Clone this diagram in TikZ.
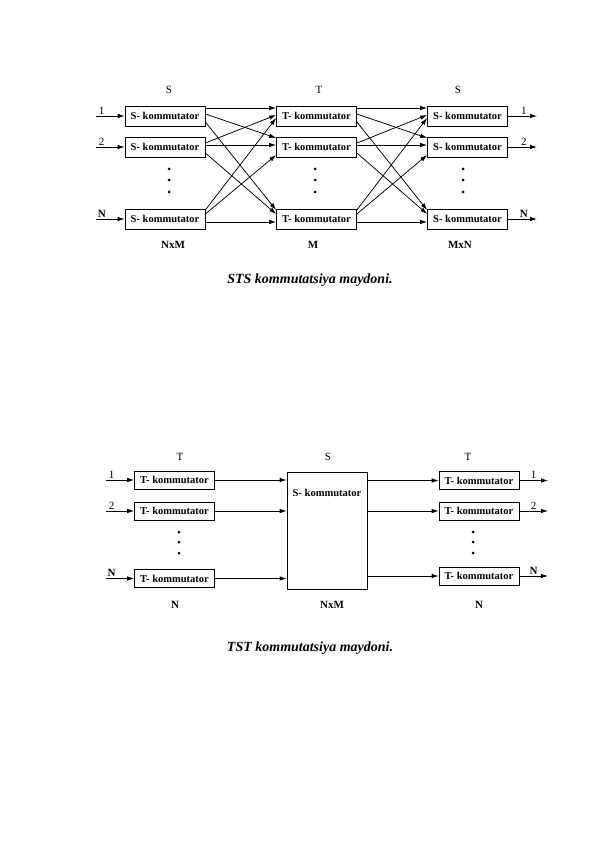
\documentclass[tikz,border=0pt]{standalone}
\usepackage{fontspec}
\setmainfont{Liberation Serif}
\usetikzlibrary{arrows.meta}

\begin{document}
\begin{tikzpicture}[x = 1pt, y = -1pt, > = {Latex[length = 7pt, width = 4.5pt]}, line width = 0.75pt,
	box/.style = {draw, minimum width = 80pt, minimum height = 20pt, inner sep = 0pt, font = \fontsize{10.5}{12}\selectfont\bfseries},
	bigbox/.style = {draw, minimum width = 80pt, minimum height = 117pt, inner sep = 0pt},
	head/.style = {font = \fontsize{11}{13}\selectfont},
	foot/.style = {font = \fontsize{11}{13}\selectfont\bfseries},
	num/.style = {above, inner sep = 1.5pt, font = \fontsize{11}{12}\selectfont},
	caption/.style = {font = \fontsize{14}{16}\selectfont\bfseries\itshape}]

	\useasboundingbox (0, 0) rectangle (596, 842);

	% Definitions

	\def\xs{165}		% STS columns
	\def\xt{316.5}
	\def\xr{467.5}

	\def\xl{174.5}		% TST columns
	\def\xm{327}
	\def\xn{479}

	% STS field: switches

	\foreach \n/\y in {1/116, 2/147, 3/219}
	{
		\node (s\n) [box] at (\xs, \y) {S- kommutator};
		\node (t\n) [box] at (\xt, \y) {T- kommutator};
		\node (r\n) [box] at (\xr, \y) {S- kommutator};
	}

	% STS field: inputs and outputs

	\foreach \n/\y/\l in {1/116/1, 2/147/2, 3/219/\textbf{N}}
	{
		\coordinate (a\n) at (96, \y);
		\coordinate (b\n) at (537, \y);
		\draw [->] (a\n) -- node (la\n) [num, pos = 0.2] {\l} (s\n.west);
		\draw [->] (r\n.east) -- node (lb\n) [num, pos = 0.55] {\l} (b\n);
	}

	% STS field: links between stages

	\foreach \a/\ya/\b/\yb in {1/8/1/8, 1/2/2/9, 1/-6/3/9, 2/4/1/1, 2/2/2/2, 2/-6/3/5, 3/9/1/-2, 3/5/2/-8, 3/-3/3/-3}
	{
		\draw [->] ([yshift = \ya pt] s\a.east) -- ([yshift = \yb pt] t\b.west);
		\draw [->] ([yshift = \ya pt] t\a.east) -- ([yshift = \yb pt] r\b.west);
	}

	% STS field: dots and labels

	\foreach \x in {169, 315, 463}
		\foreach \y in {169, 180, 192}
			\fill (\x, \y) circle (1.5pt);

	\node (hs) [head] at (169, 90) {S};
	\node (ht) [head] at (319, 90) {T};
	\node (hr) [head] at (458, 90) {S};
	\node (fs) [foot] at (173, 245) {NxM};
	\node (ft) [foot] at (313, 245) {M};
	\node (fr) [foot] at (460, 245) {MxN};
	\node (cap1) [caption] at (310, 280) {STS kommutatsiya maydoni.};

	% TST field: switches

	\node (bs) [bigbox] at (\xm, 530.5) {};
	\node (bst) [font = \fontsize{10.5}{12}\selectfont\bfseries] at (\xm, 493) {S- kommutator};

	\foreach \n/\y/\yo/\l in {1/480/480.5/1, 2/511/511/2, 3/578.5/576/\textbf{N}}
	{
		\node (v\n) [box, minimum height = 18pt] at (\xl, \y) {T- kommutator};
		\node (u\n) [box, minimum height = 18pt] at (\xn, \yo) {T- kommutator};
		\coordinate (c\n) at (106, \y);
		\coordinate (d\n) at (548, \yo);
		\draw [->] (c\n) -- node (lc\n) [num, pos = 0.2] {\l} (v\n.west);
		\draw [->] (v\n.east) -- (v\n.east -| bs.west);
		\draw [->] (bs.east |- u\n.west) -- (u\n.west);
		\draw [->] (u\n.east) -- node (ld\n) [num, pos = 0.5] {\l} (d\n);
	}

	% TST field: dots and labels

	\foreach \x in {179, 473}
		\foreach \y in {532, 542, 553}
			\fill (\x, \y) circle (1.5pt);

	\node (hv) [head] at (180, 457) {T};
	\node (hb) [head] at (328, 457) {S};
	\node (hu) [head] at (468, 457) {T};
	\node (fv) [foot] at (175, 605) {N};
	\node (fb) [foot] at (332, 605) {NxM};
	\node (fu) [foot] at (479, 605) {N};
	\node (cap2) [caption] at (310, 648) {TST kommutatsiya maydoni.};

\end{tikzpicture}
\end{document}
